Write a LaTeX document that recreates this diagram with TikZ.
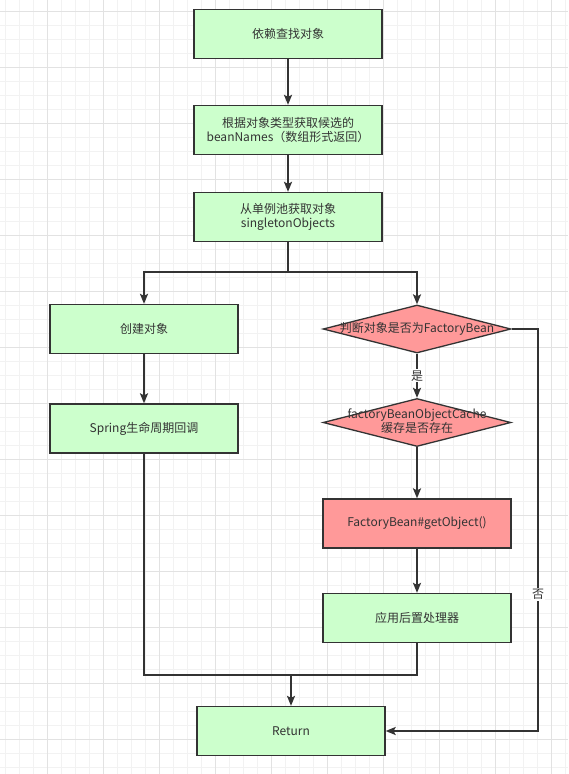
\documentclass[tikz,border=0pt]{standalone}
\usepackage{fontspec}
\setmainfont{Noto Sans CJK SC}
\usepackage{tikz}
\usepackage{tkz-euclide}
\usepackage{xcolor}
\usetikzlibrary{shapes.geometric,arrows.meta}

\definecolor{verde}{HTML}{CCFFCC}
\definecolor{vermelho}{HTML}{FF9999}
\definecolor{linha}{HTML}{333333}
\definecolor{gradefraca}{HTML}{F2F2F2}
\definecolor{gradeforte}{HTML}{E2E2E2}

\begin{document}
\begin{tikzpicture}[x=1pt,y=-1pt,font=\fontsize{12}{14.4}\selectfont, %unidade = 1 pixel da figura
caixa/.style={draw=linha,line width=1.3pt,minimum width=188,minimum height=49,inner sep=0pt,align=center,text=linha},
losango/.style={draw=linha,line width=1.3pt,shape=diamond,aspect=3.85,minimum width=188,minimum height=48,inner sep=0pt,text=linha,fill=vermelho},
seta/.style={draw=linha,line width=1.8pt,-{Stealth[length=10pt,width=8pt,inset=2pt]}},
fio/.style={draw=linha,line width=1.8pt},
rotulo/.style={fill=white,inner sep=1pt,text=linha}]

%Define o tamanho da figura (568 x 774) e desenha a grade de fundo, linhas finas a cada 14 e linhas fortes a cada 56
%---------------------------------------------------
\useasboundingbox (0,0) rectangle (568,774);
\fill[white] (0,0) rectangle (568,774);
\foreach \gx in {5,19,...,565} \draw[gradefraca,line width=1pt] (\gx,0) -- (\gx,774);
\foreach \gy in {11,25,...,767} \draw[gradefraca,line width=1pt] (0,\gy) -- (568,\gy);
\foreach \gx in {47,103,...,559} \draw[gradeforte,line width=1pt] (\gx,0) -- (\gx,774);
\foreach \gy in {11,67,...,739} \draw[gradeforte,line width=1pt] (0,\gy) -- (568,\gy);
%---------------------------------------------------

%O comando \tkzDefPoints define os centros dos blocos do fluxograma (x/y/NomedoPonto)
\tkzDefPoints{
288/34/A,
288/130/B,
288/217/C,
144/329/D,
144/428.5/E,
417/329/F,
417/422.5/G,
417/523.5/H,
417/618/I,
291/731/J}

%Blocos verdes da coluna central e da esquerda
%---------------------------------------------------
\node[caixa,fill=verde] (busca) at (A) {依赖查找对象};
\node[caixa,fill=verde] (nomes) at (B) {根据对象类型获取候选的\\beanNames（数组形式返回）};
\node[caixa,fill=verde] (pool) at (C) {从单例池获取对象\\singletonObjects};
\node[caixa,fill=verde] (criar) at (D) {创建对象};
\node[caixa,fill=verde] (ciclo) at (E) {Spring生命周期回调};
%---------------------------------------------------

%Losangos de decisao e blocos da direita (vermelho e verde)
%---------------------------------------------------
\node[losango] (ehfb) at (F) {\makebox[0pt]{判断对象是否为FactoryBean}};
\node[losango] (cache) at (G) {\makebox[0pt]{\begin{tabular}{@{}c@{}}factoryBeanObjectCache\\缓存是否存在\end{tabular}}};
\node[caixa,fill=vermelho] (getobj) at (H) {FactoryBean\#getObject()};
\node[caixa,fill=verde] (posproc) at (I) {应用后置处理器};
\node[caixa,fill=verde] (retorno) at (J) {Return};
%---------------------------------------------------

%Pontos auxiliares para as dobras das setas
\coordinate (ramo) at (288,272);
\coordinate (junta) at (291,675);
\coordinate (canto) at (538,329);

%Setas do fluxo principal
%---------------------------------------------------
\draw[seta] (busca) -- (nomes);
\draw[seta] (nomes) -- (pool);
\draw[fio] (pool) -- (ramo);
\draw[seta] (ramo) -| (criar);
\draw[seta] (ramo) -| (ehfb);
\draw[seta] (criar) -- (ciclo);
%---------------------------------------------------

%Ramo do FactoryBean: "是" desce, "否" vai direto para o Return
%---------------------------------------------------
\draw[seta] (ehfb) -- node[rotulo] (sim) {是} (cache);
\draw[seta] (cache) -- (getobj);
\draw[seta] (getobj) -- (posproc);
\draw[seta] (ehfb.east) -- (canto) |- node[rotulo,pos=0.33] (nao) {否} (retorno.east);
%---------------------------------------------------

%Juncao das duas colunas antes do Return
%---------------------------------------------------
\draw[fio] (ciclo.south) |- (junta);
\draw[fio] (posproc.south) |- (junta);
\draw[seta] (junta) -- (retorno.north);
%---------------------------------------------------

\end{tikzpicture}
\end{document}
